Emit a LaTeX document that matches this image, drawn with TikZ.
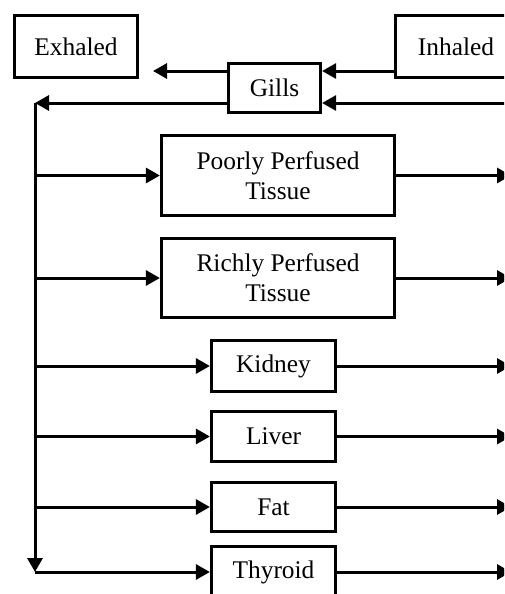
\documentclass[tikz,border=0pt]{standalone}
\usepackage{fontspec}
\setmainfont{Liberation Serif}
\usetikzlibrary{arrows.meta}

\begin{document}
\begin{tikzpicture}[x=0.5pt,y=-0.5pt,
  organ/.style={draw,line width=1.6pt,align=center,inner sep=0pt,
    font=\fontsize{12.7}{15}\selectfont},
  flow/.style={line width=1.5pt,-{Triangle[length=7pt,width=7.5pt]}}]
  \clip (0,0) rectangle (504,594);
  \node[organ,minimum width=61.5pt,minimum height=31pt] (exhaled) at (76,46.5) {Exhaled};
  \node[organ,minimum width=60.5pt,minimum height=31pt] (inhaled) at (456,46.5) {Inhaled};
  \node[organ,minimum width=46pt,minimum height=24.5pt] (gills) at (274.5,88) {Gills};
  \node[organ,minimum width=116.5pt,minimum height=40pt] (poorly) at (278,175.5) {Poorly Perfused\\Tissue};
  \node[organ,minimum width=116.5pt,minimum height=39.5pt] (richly) at (278,278) {Richly Perfused\\Tissue};
  \node[organ,minimum width=62pt,minimum height=25.5pt] (kidney) at (273.5,366) {Kidney};
  \node[organ,minimum width=62pt,minimum height=25pt] (liver) at (273.5,436.5) {Liver};
  \node[organ,minimum width=62pt,minimum height=24.5pt] (fat) at (273.5,507) {Fat};
  \node[organ,minimum width=62pt,minimum height=25.5pt] (thyroid) at (273.5,572) {Thyroid};
  % ends of the open connectors
  \coordinate (gin) at ([yshift=8.5pt]gills.east);
  \coordinate (exout) at (153,71);
  \coordinate (venous) at (511,103);
  \coordinate (top) at (35,103);
  \coordinate (out) at (511,0);
  % gills
  \draw[flow] (inhaled.west |- gin) -- (gin);
  \draw[flow] ([yshift=8.5pt]gills.west) -- (exout);
  \draw[flow] (venous) -- ([yshift=-7.5pt]gills.east);
  \draw[flow] ([yshift=-7.5pt]gills.west) -- (top);
  \draw[flow] (top) -- (top |- thyroid.west);
  % tissues
  \foreach \o in {poorly,richly,kidney,liver,fat,thyroid} {
    \draw[flow] (top |- \o.west) -- (\o.west);
    \draw[flow] (\o.east) -- (out |- \o.east);
  }
\end{tikzpicture}
\end{document}
